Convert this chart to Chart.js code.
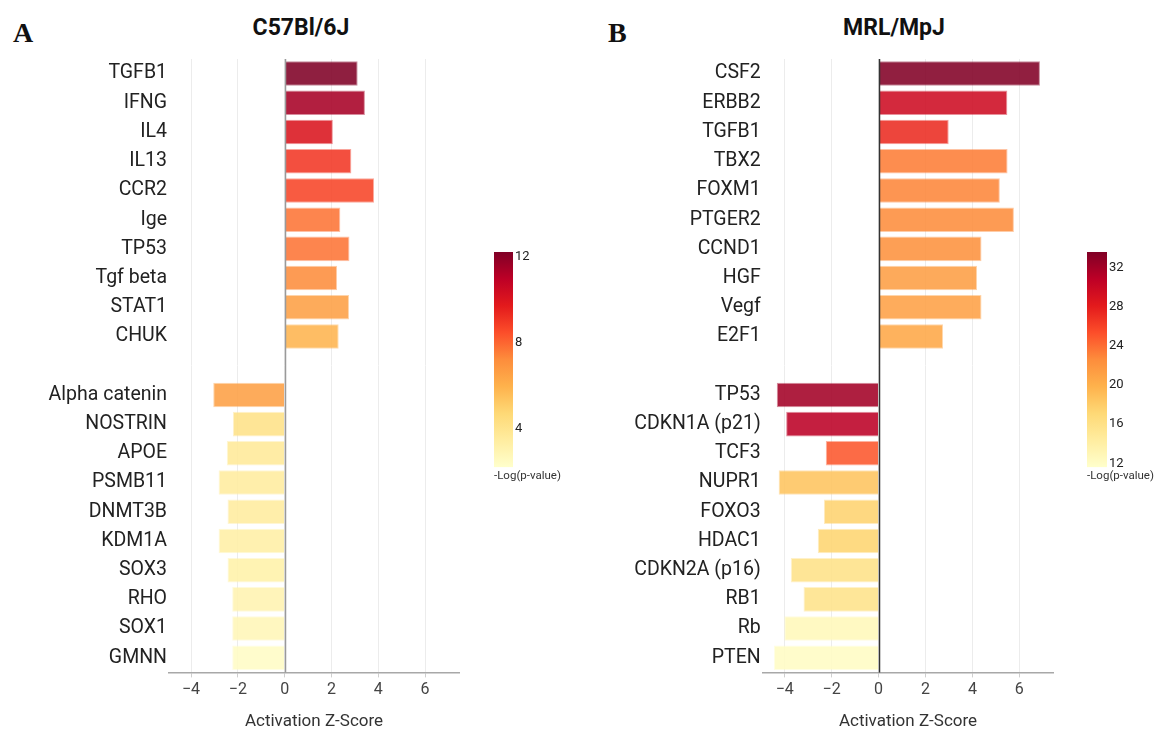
<!DOCTYPE html>
<html>
<head>
<meta charset="utf-8">
<script src="https://cdn.jsdelivr.net/npm/chart.js@4.4.1/dist/chart.umd.min.js"></script>
<style>
  body { margin: 0; background: #fff; }
  #wrap { position: relative; width: 1155px; height: 732px; overflow: hidden; background: #fff; }
  .box { position: absolute; }
  .letter { position: absolute; font: bold 28px 'Liberation Serif', serif; line-height: 28px; color: #111; }
  .title { position: absolute; font: bold 23px Roboto, sans-serif; line-height: 23px; color: #111;
           transform: translateX(-50%); white-space: nowrap; }
</style>
</head>
<body>
<div id="wrap">
  <div class="letter" style="left:13px;top:19px">A</div>
  <div class="title" style="left:301px;top:16px">C57Bl/6J</div>
  <div class="letter" style="left:608px;top:19px">B</div>
  <div class="title" style="left:894px;top:16px">MRL/MpJ</div>

  <div class="box" style="left:0;top:0;width:480px;height:732px"><canvas id="chartA"></canvas></div>
  <div class="box" style="left:486px;top:240px;width:110px;height:250px"><canvas id="cbarA"></canvas></div>
  <div class="box" style="left:600px;top:0;width:480px;height:732px"><canvas id="chartB"></canvas></div>
  <div class="box" style="left:1079px;top:240px;width:76px;height:250px"><canvas id="cbarB"></canvas></div>
</div>

<script>
// Panel A - C57Bl/6J (blank label separates activated / inhibited regulators)
const labelsA = ['TGFB1', 'IFNG', 'IL4', 'IL13', 'CCR2', 'Ige', 'TP53', 'Tgf beta', 'STAT1', 'CHUK', '',
                 'Alpha catenin', 'NOSTRIN', 'APOE', 'PSMB11', 'DNMT3B', 'KDM1A', 'SOX3', 'RHO', 'SOX1', 'GMNN'];
const zScoreA = [3.12, 3.43, 2.06, 2.85, 3.82, 2.38, 2.77, 2.24, 2.75, 2.31, null,
                 -3.05, -2.21, -2.47, -2.82, -2.44, -2.82, -2.44, -2.24, -2.24, -2.24];
const logPA = [12.2, 11.4, 10.0, 9.0, 8.7, 7.7, 7.7, 7.2, 6.6, 5.9, null,
               6.6, 4.2, 3.7, 3.5, 3.5, 3.3, 3.2, 3.0, 2.8, 2.4];

// Panel B - MRL/MpJ
const labelsB = ['CSF2', 'ERBB2', 'TGFB1', 'TBX2', 'FOXM1', 'PTGER2', 'CCND1', 'HGF', 'Vegf', 'E2F1', '',
                 'TP53', 'CDKN1A (p21)', 'TCF3', 'NUPR1', 'FOXO3', 'HDAC1', 'CDKN2A (p16)', 'RB1', 'Rb', 'PTEN'];
const zScoreB = [6.88, 5.49, 2.99, 5.50, 5.17, 5.77, 4.39, 4.20, 4.39, 2.75, null,
                 -4.34, -3.94, -2.25, -4.26, -2.33, -2.59, -3.74, -3.20, -4.02, -4.46];
const logPB = [33.5, 29.7, 27.2, 23.3, 22.9, 22.6, 22.2, 21.3, 21.1, 20.7, null,
               32.0, 30.9, 25.0, 18.6, 17.5, 17.4, 16.0, 15.8, 12.7, 12.1];

const xTicks = [-4, -2, 0, 2, 4, 6];
const cbTicksA = [4, 8, 12];
const cbTicksB = [12, 16, 20, 24, 28, 32];
const cbRangeA = [2.2, 12.2];
const cbRangeB = [11.6, 33.6];

// YlOrRd colour scale
const stops = [
  [0, [255, 255, 204]], [0.125, [255, 237, 160]], [0.25, [254, 217, 118]], [0.375, [254, 178, 76]],
  [0.5, [253, 141, 60]], [0.625, [252, 78, 42]], [0.75, [227, 26, 28]], [0.875, [189, 0, 38]], [1, [128, 0, 38]]
];

function colorAt(v, lo, hi, alpha) {
  let t = Math.max(0, Math.min(1, (v - lo) / (hi - lo)));
  for (let i = 1; i < stops.length; i++) {
    if (t <= stops[i][0]) {
      const a = stops[i - 1], b = stops[i];
      const f = (t - a[0]) / (b[0] - a[0]);
      const c = a[1].map((ch, k) => Math.round(ch + (b[1][k] - ch) * f));
      return `rgba(${c[0]},${c[1]},${c[2]},${alpha})`;
    }
  }
  return `rgba(128,0,38,${alpha})`;
}

const zeroLine = {
  id: 'zeroLine',
  afterDatasetsDraw(chart, args, opts) {
    const { ctx, chartArea, scales: { x } } = chart;
    const px = Math.round(x.getPixelForValue(0)) + 0.5;
    ctx.save();
    ctx.strokeStyle = opts.color;
    ctx.lineWidth = opts.width;
    ctx.beginPath();
    ctx.moveTo(px, chartArea.top);
    ctx.lineTo(px, chartArea.bottom);
    ctx.stroke();
    ctx.restore();
  }
};

function makeBars(id, labels, z, logp, range, yWidth, padRight, zeroColor) {
  return new Chart(document.getElementById(id), {
    type: 'bar',
    data: {
      labels: labels,
      datasets: [{
        data: z,
        backgroundColor: logp.map(v => v == null ? 'rgba(0,0,0,0)' : colorAt(v, range[0], range[1], 0.88)),
        borderColor: logp.map(v => v == null ? 'rgba(0,0,0,0)' : colorAt(v, range[0], range[1], 0.45)),
        borderWidth: 1,
        barPercentage: 0.84,
        categoryPercentage: 1
      }]
    },
    options: {
      indexAxis: 'y',
      responsive: true,
      maintainAspectRatio: false,
      animation: false,
      layout: { padding: { left: 0, right: padRight, top: 59, bottom: 0 } },
      plugins: {
        legend: { display: false },
        tooltip: { enabled: false },
        zeroLine: { color: zeroColor, width: 1.5 }
      },
      scales: {
        x: {
          type: 'linear',
          min: -4.94,
          max: 7.45,
          afterBuildTicks: s => { s.ticks = xTicks.map(v => ({ value: v })); },
          grid: { color: '#ececec', tickColor: '#cfcfcf', tickLength: 5 },
          border: { color: '#a8a8a8', width: 1.5 },
          ticks: {
            font: { family: 'Roboto', size: 16 },
            color: '#444',
            padding: 3,
            callback: v => v < 0 ? '\u2212' + Math.abs(v) : String(v)
          },
          title: {
            display: true,
            text: 'Activation Z-Score',
            font: { family: 'Roboto', size: 17 },
            color: '#333',
            padding: { top: 9, bottom: 0 }
          }
        },
        y: {
          grid: { display: false, drawTicks: false },
          border: { display: false },
          ticks: { font: { family: 'Roboto', size: 19.5 }, color: '#222', padding: 2, autoSkip: false },
          afterFit: s => { s.width = yWidth; }
        }
      }
    },
    plugins: [zeroLine]
  });
}

function makeColorbar(id, range, ticks, axisWidth) {
  return new Chart(document.getElementById(id), {
    type: 'bar',
    data: {
      labels: [''],
      datasets: [{
        data: [[range[0], range[1]]],
        backgroundColor: c => {
          const a = c.chart.chartArea;
          if (!a) return null;
          const g = c.chart.ctx.createLinearGradient(0, a.bottom, 0, a.top);
          stops.forEach(s => g.addColorStop(s[0], `rgb(${s[1].join(',')})`));
          g.addColorStop(1, 'rgb(108,0,32)');
          return g;
        },
        borderWidth: 0,
        barPercentage: 1,
        categoryPercentage: 1
      }]
    },
    options: {
      responsive: true,
      maintainAspectRatio: false,
      animation: false,
      layout: { padding: { left: 8, right: 0, top: 12, bottom: 7 } },
      plugins: {
        legend: { display: false },
        tooltip: { enabled: false },
        title: {
          display: true,
          position: 'bottom',
          align: 'start',
          text: '-Log(p-value)',
          font: { family: 'Roboto', size: 11.5, weight: 'normal' },
          color: '#333',
          padding: { top: 2, bottom: 0 }
        }
      },
      scales: {
        x: { display: false },
        y: {
          position: 'right',
          min: range[0],
          max: range[1],
          afterBuildTicks: s => { s.ticks = ticks.map(v => ({ value: v })); },
          grid: { display: false, drawTicks: false },
          border: { display: false },
          ticks: { font: { family: 'Roboto', size: 13 }, color: '#222', padding: 2 },
          afterFit: s => { s.width = axisWidth; }
        }
      }
    }
  });
}

makeBars('chartA', labelsA, zScoreA, logPA, cbRangeA, 169, 21, '#9a9a9a');
makeBars('chartB', labelsB, zScoreB, logPB, cbRangeB, 162.7, 26.7, '#333');
makeColorbar('cbarA', cbRangeA, cbTicksA, 83);
makeColorbar('cbarB', cbRangeB, cbTicksB, 48);
</script>
</body>
</html>
